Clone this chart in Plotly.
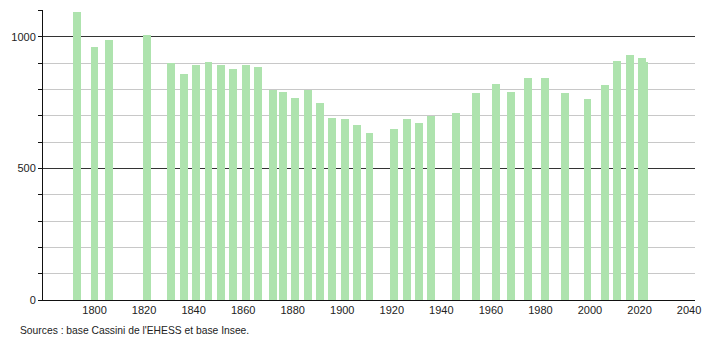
import plotly.graph_objects as go

years = [1793, 1800, 1806, 1821, 1831, 1836, 1841, 1846, 1851, 1856, 1861, 1866,
         1872, 1876, 1881, 1886, 1891, 1896, 1901, 1906, 1911, 1921, 1926, 1931,
         1936, 1946, 1954, 1962, 1968, 1975, 1982, 1990, 1999, 2006, 2011, 2016,
         2021, 2022]
population = [1095, 962, 989, 1006, 900, 859, 894, 905, 894, 878, 894, 885,
              798, 790, 767, 798, 748, 693, 688, 665, 635, 651, 688, 673,
              698, 711, 787, 821, 790, 843, 843, 787, 763, 817, 909, 932,
              920, 906]
x_ticks = [1800, 1820, 1840, 1860, 1880, 1900, 1920, 1940, 1960, 1980, 2000, 2020, 2040]
y_ticks = [0, 500, 1000]
source_text = "Sources : base Cassini de l'EHESS et base Insee."

fig = go.Figure()
fig.add_trace(go.Bar(
    x=years, y=population, width=3.2,
    marker=dict(color="#aee3ae", line=dict(width=0)),
    hoverinfo="x+y",
))

fig.update_layout(
    width=710, height=340,
    margin=dict(l=43, r=9, t=10, b=40),
    paper_bgcolor="white", plot_bgcolor="white",
    showlegend=False,
    font=dict(family="Liberation Sans, Arial, sans-serif", size=11, color="#222"),
    bargap=0,
    xaxis=dict(
        range=[1779.2, 2042.4],
        tickvals=x_ticks, ticktext=[str(t) for t in x_ticks],
        showgrid=False, zeroline=False,
        showline=True, linecolor="#111", linewidth=1,
        ticks="", tickfont=dict(size=11, color="#222"),
    ),
    yaxis=dict(
        range=[0, 1102],
        tickvals=y_ticks, ticktext=[str(t) for t in y_ticks],
        showgrid=True, gridcolor="#333", gridwidth=1,
        zeroline=False,
        showline=True, linecolor="#111", linewidth=1,
        ticks="outside", ticklen=4, tickcolor="#111",
        tickfont=dict(size=11, color="#222"),
        minor=dict(dtick=100, showgrid=True, gridcolor="#c8c8c8", gridwidth=1,
                   ticks="outside", ticklen=4, tickcolor="#111"),
    ),
)

fig.add_annotation(
    text=source_text, xref="paper", yref="paper",
    x=-0.039, y=-0.078, xanchor="left", yanchor="top",
    showarrow=False, font=dict(size=10.3, color="#222"),
)

fig.write_html("out.html")
